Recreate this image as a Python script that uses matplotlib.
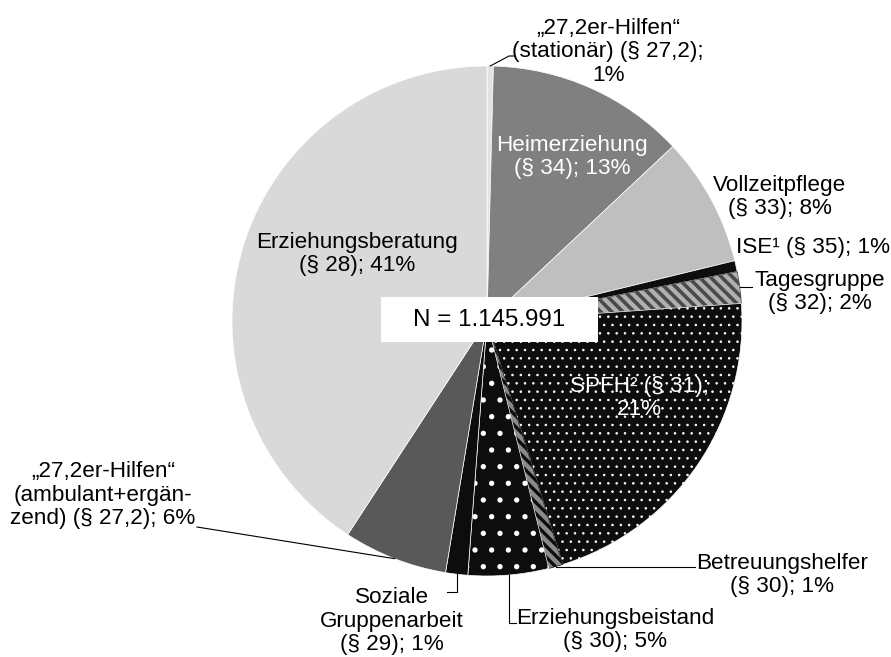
import matplotlib.pyplot as plt
from matplotlib.patches import Rectangle
import numpy as np

plt.rcParams['font.family'] = ['Liberation Sans', 'DejaVu Sans']
plt.rcParams['hatch.linewidth'] = 2.0

# Anteile der Hilfearten (im Uhrzeigersinn ab 12 Uhr)
categories = ['27,2 stationär', 'Heimerziehung', 'Vollzeitpflege', 'ISE', 'Tagesgruppe',
              'SPFH', 'Betreuungshelfer', 'Erziehungsbeistand', 'Soziale Gruppenarbeit',
              '27,2 ambulant', 'Erziehungsberatung']
shares = [0.4, 12.6, 8.2, 0.7, 2.0, 21.3, 0.9, 5.1, 1.4, 6.6, 40.8]
label_texts = ['„27,2er-Hilfen“\n(stationär) (§ 27,2);\n1%',
               'Heimerziehung\n(§ 34); 13%',
               'Vollzeitpflege\n(§ 33); 8%',
               'ISE¹ (§ 35); 1%',
               'Tagesgruppe\n(§ 32); 2%',
               'SPFH² (§ 31);\n21%',
               'Betreuungshelfer\n(§ 30); 1%',
               'Erziehungsbeistand\n(§ 30); 5%',
               'Soziale\nGruppenarbeit\n(§ 29); 1%',
               '„27,2er-Hilfen“\n(ambulant+ergän-\nzend) (§ 27,2); 6%',
               'Erziehungsberatung\n(§ 28); 41%']
total_text = 'N = 1.145.991'

W, H = 891, 657


def Y(y):
    return H - y


face = ['#e2e2e2', '#808080', '#bfbfbf', '#0d0d0d', '#b0b0b0', '#0d0d0d',
        '#8a8a8a', '#0d0d0d', '#0d0d0d', '#595959', '#d9d9d9']
edge = ['white', 'white', 'white', 'white', '#4a4a4a', 'white',
        '#0d0d0d', 'white', 'white', 'white', 'white']
hatch = [None, None, None, None, '\\\\\\', '..', '\\\\\\', '.', None, None, None]
hatch_lw = [None, None, None, None, 2.6, 0.6, 2.4, 1.4, None, None, None]

fig = plt.figure(figsize=(W / 100, H / 100), dpi=100)
ax = fig.add_axes([0, 0, 1, 1])

cx, cy, r = 487, Y(321), 255
wedges, _ = ax.pie(shares, colors=face, startangle=90, counterclock=False,
                   center=(cx, cy), radius=r, frame=True,
                   wedgeprops=dict(linewidth=0.5))
for w, ec, h, lw in zip(wedges, edge, hatch, hatch_lw):
    w.set_edgecolor(ec)
    if h:
        w.set_hatch(h)
        if hasattr(w, 'set_hatch_linewidth'):
            w.set_hatch_linewidth(lw)
ax.set_xlim(0, W)
ax.set_ylim(0, H)
ax.set_aspect('equal')
ax.axis('off')


def edge_point(i):
    w = wedges[i]
    a = np.deg2rad((w.theta1 + w.theta2) / 2)
    return cx + r * np.cos(a), cy + r * np.sin(a)


fs = 16.2
txt = dict(ha='center', va='center', multialignment='center', fontsize=fs, linespacing=1.15)

# Beschriftungen
pos = [(608, 52), (572, 157), (780, 197), (813, 247), (820, 292), (639, 398),
       (782, 575), (615, 630), (392, 621), (103, 495), (357, 254)]
colors = ['black', 'white', 'black', 'black', 'black', 'white',
          'black', 'black', 'black', 'black', 'black']
for t, (x, y), c in zip(label_texts, pos, colors):
    ax.text(x, Y(y), t, color=c, **txt)

# Führungslinien
lc = dict(color='black', linewidth=0.8)
x0, y0 = edge_point(0)
ax.plot([x0, 509, 514], [y0, Y(56), Y(56)], **lc)
x0, y0 = edge_point(4)
ax.plot([x0, 752], [y0, y0], **lc)
x0, y0 = edge_point(6)
ax.plot([x0, 695], [y0, y0], **lc)
x0, y0 = edge_point(7)
ax.plot([x0, x0, 516], [y0, Y(623), Y(623)], **lc)
x0, y0 = edge_point(8)
ax.plot([x0, x0, 447], [y0, Y(592), Y(592)], **lc)
x0, y0 = edge_point(9)
ax.plot([x0, 197], [y0, Y(527)], **lc)

# N-Box
ax.add_patch(Rectangle((381, Y(342)), 217, 45, facecolor='white', edgecolor='none', zorder=5))
ax.text(489, Y(320), total_text, ha='center', va='center', fontsize=17.4, zorder=6)

fig.savefig('out.png', dpi=100)
